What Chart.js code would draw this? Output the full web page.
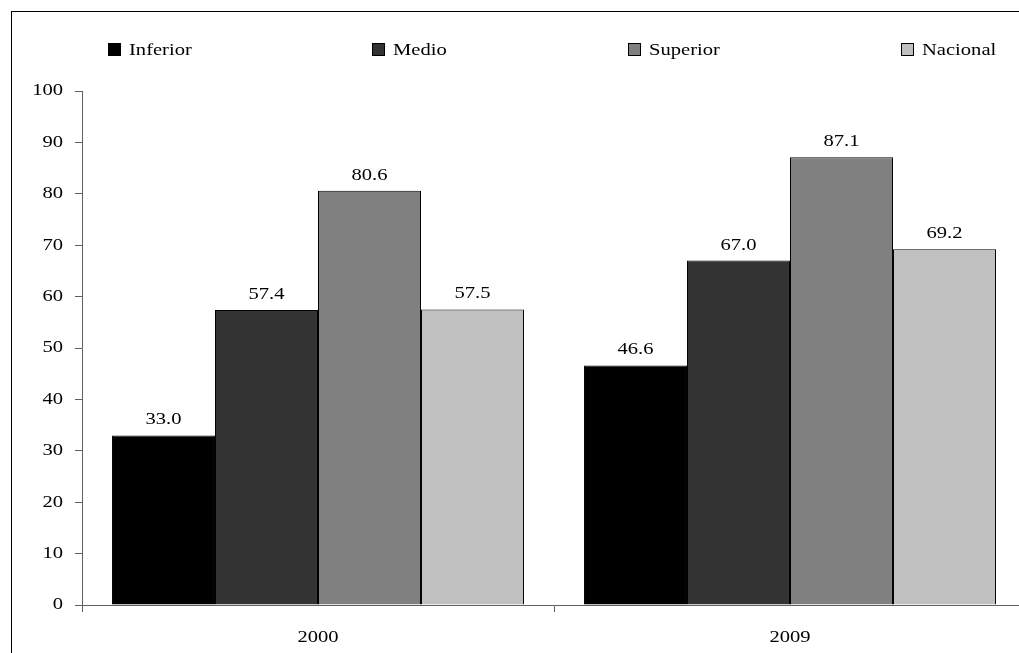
<!DOCTYPE html>
<html>
<head>
<meta charset="utf-8">
<script src="https://cdn.jsdelivr.net/npm/chart.js@4"></script>
<style>
  html, body { margin: 0; padding: 0; background: #fff; overflow: hidden; }
  body { width: 1019px; height: 653px; position: relative; }
  .frame { position: absolute; left: 11px; top: 11px; width: 1100px; height: 700px; border: 1.5px solid #000; box-sizing: border-box; }
  #wrap { position: absolute; left: 0; top: 0; width: 1060px; height: 653px; }
  .legend-item { position: absolute; top: 40px; font: 17px "Liberation Serif", "Times New Roman", serif; color: #000; white-space: nowrap; line-height: 20px; }
  .legend-item i { display: inline-block; width: 11px; height: 11px; border: 1px solid #000; vertical-align: -1px; margin-right: 8px; }
  .legend-item span { display: inline-block; transform: scaleX(1.21); transform-origin: left center; }
</style>
</head>
<body>
<div class="frame"></div>
<div id="wrap"><canvas id="chart" width="1060" height="653"></canvas></div>
<div id="legend"></div>
<script>
const categories = ['2000', '2009'];
const seriesNames = ['Inferior', 'Medio', 'Superior', 'Nacional'];
const inferior = [33.0, 46.6];
const medio = [57.4, 67.0];
const superior = [80.6, 87.1];
const nacional = [57.5, 69.2];
const seriesColors = ['#000000', '#333333', '#808080', '#c0c0c0'];
const yTicks = [0, 10, 20, 30, 40, 50, 60, 70, 80, 90, 100];

const fontFamily = '"Liberation Serif", "Times New Roman", serif';
const axisColor = '#5f5f5f';
const textStretch = 1.21; // the source image text is a bit wider than normal

// legend drawn as html so the uneven spacing of the original can be kept
const legendLeft = [108, 372, 628, 901];
const legendEl = document.getElementById('legend');
seriesNames.forEach((name, i) => {
    const item = document.createElement('div');
    item.className = 'legend-item';
    item.style.left = legendLeft[i] + 'px';
    const box = document.createElement('i');
    box.style.background = seriesColors[i];
    const label = document.createElement('span');
    label.textContent = name;
    item.appendChild(box);
    item.appendChild(label);
    legendEl.appendChild(item);
});

// widen all canvas text around its anchor point
const stretchText = {
    id: 'stretchText',
    beforeInit(chart) {
        const ctx = chart.ctx;
        const origFill = ctx.fillText.bind(ctx);
        ctx.fillText = function (text, x, y, maxWidth) {
            ctx.save();
            ctx.translate(x, y);
            ctx.scale(textStretch, 1);
            origFill(text, 0, 0);
            ctx.restore();
        };
    }
};

const valueLabels = {
    id: 'valueLabels',
    afterDatasetsDraw(chart) {
        const ctx = chart.ctx;
        ctx.save();
        ctx.font = '17px ' + fontFamily;
        ctx.fillStyle = '#000';
        ctx.textAlign = 'center';
        ctx.textBaseline = 'alphabetic';
        chart.data.datasets.forEach((ds, di) => {
            chart.getDatasetMeta(di).data.forEach((bar, i) => {
                ctx.fillText(ds.data[i].toFixed(1), bar.x, bar.y - 11);
            });
        });
        ctx.restore();
    }
};

const allSeries = [inferior, medio, superior, nacional];

new Chart(document.getElementById('chart'), {
    type: 'bar',
    data: {
        labels: categories,
        datasets: allSeries.map((values, i) => ({
            label: seriesNames[i],
            data: values,
            backgroundColor: seriesColors[i],
            borderColor: '#000000',
            borderWidth: 1,
            categoryPercentage: 0.873,
            barPercentage: 1
        }))
    },
    options: {
        responsive: false,
        animation: false,
        layout: { padding: { top: 91, right: 34, left: 0, bottom: 0 } },
        plugins: {
            legend: { display: false },
            tooltip: { enabled: false }
        },
        scales: {
            x: {
                grid: { offset: true, drawOnChartArea: false, drawTicks: true, tickLength: 7, color: axisColor },
                border: { color: axisColor, width: 1 },
                ticks: { color: '#000', padding: 15, font: { family: fontFamily, size: 17 } },
                afterFit(scale) { scale.height = 48; }
            },
            y: {
                min: yTicks[0],
                max: yTicks[yTicks.length - 1],
                afterBuildTicks(scale) { scale.ticks = yTicks.map((v) => ({ value: v })); },
                grid: { drawOnChartArea: false, drawTicks: true, tickLength: 7, color: axisColor },
                border: { color: axisColor, width: 1 },
                ticks: { color: '#000', padding: 12, font: { family: fontFamily, size: 17 } },
                afterFit(scale) { scale.width = 82; }
            }
        }
    },
    plugins: [stretchText, valueLabels]
});
</script>
</body>
</html>
